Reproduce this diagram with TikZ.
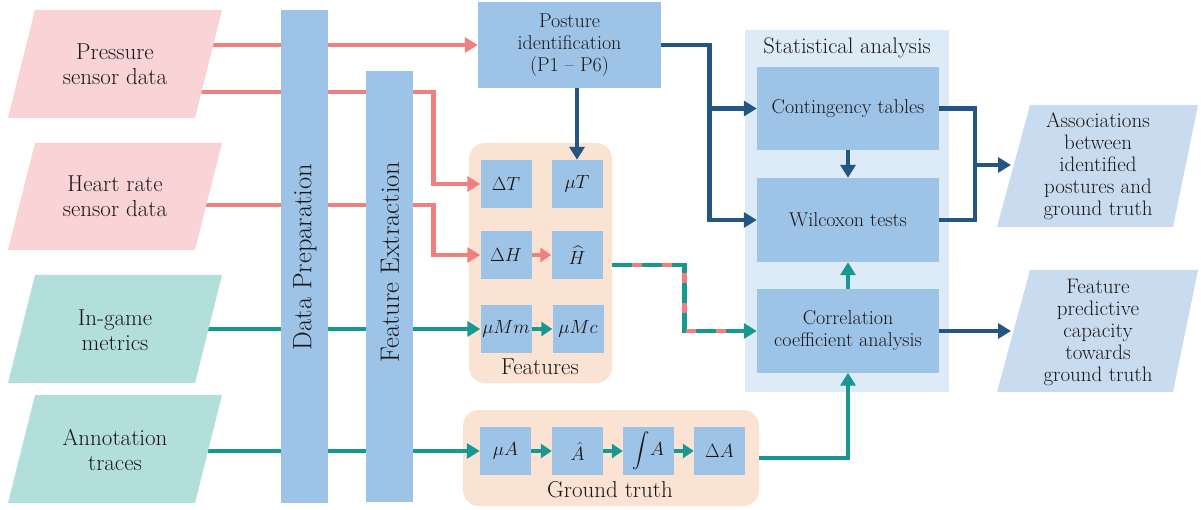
\RequirePackage{fix-cm}
\documentclass[tikz,border=0pt]{standalone}
\usepackage{exscale}
\usetikzlibrary{arrows.meta,calc}
\definecolor{ink}{HTML}{1A1718}
\definecolor{pinkfill}{HTML}{F9D3D5}
\definecolor{redline}{HTML}{F08080}
\definecolor{tealfill}{HTML}{B2DFDC}
\definecolor{tealline}{HTML}{179992}
\definecolor{boxblue}{HTML}{9DC3E6}
\definecolor{navy}{HTML}{245683}
\definecolor{statsbg}{HTML}{DDEBF7}
\definecolor{outfill}{HTML}{C9DCEF}
\definecolor{peach}{HTML}{FBE3D3}
\pgfdeclarelayer{back}
\pgfdeclarelayer{wires}
\pgfsetlayers{back,wires,main}
\begin{document}
\begin{tikzpicture}[x=1pt,y=-1pt,
  every node/.style={text=ink, inner sep=0pt, align=center},
  intext/.style={font=\fontsize{23}{25}\selectfont},
  outtext/.style={font=\fontsize{21}{22}\selectfont},
  box/.style={fill=boxblue, font=\fontsize{20}{22}\selectfont},
  cell/.style={fill=boxblue, minimum width=51pt, minimum height=48pt, font=\fontsize{19}{22}\selectfont},
  group/.style={fill=peach, rounded corners=16pt},
  grouplabel/.style={font=\fontsize{23}{25}\selectfont},
  bar/.style={fill=boxblue},
  barlabel/.style={rotate=90, font=\fontsize{26.5}{30}\selectfont},
  wire/.style={line width=4.5pt},
  redw/.style={wire, draw=redline},
  tealw/.style={wire, draw=tealline},
  navyw/.style={wire, draw=navy},
  tip/.style={-{Triangle[length=13pt,width=15pt]}},
  smalltip/.style={-{Triangle[length=11pt,width=14pt]}}
]
\useasboundingbox (0,0) rectangle (1201,510);

% ---- input data (parallelograms) ----
\fill[pinkfill] (35,10) -- (222,10) -- (195,118) -- (8,118) -- cycle;
\node[intext] (pres) at (115,64) {Pressure\\sensor data};
\fill[pinkfill] (35,143) -- (222,143) -- (195,250) -- (8,250) -- cycle;
\node[intext] (heart) at (115,196) {Heart rate\\sensor data};
\fill[tealfill] (35,275) -- (222,275) -- (195,383) -- (8,383) -- cycle;
\node[intext] (game) at (115,330) {In-game\\metrics};
\fill[tealfill] (35,395) -- (222,395) -- (195,503) -- (8,503) -- cycle;
\node[intext] (annot) at (115,450) {Annotation\\traces};

\coordinate (pres-a) at (213,45);
\coordinate (pres-b) at (201,92);
\coordinate (heart-a) at (206,205);
\coordinate (game-a) at (208,329);
\coordinate (annot-a) at (208,451);

% ---- processing bars ----
\node[bar, minimum width=47pt, minimum height=493pt] (prep) at (304.5,256.5) {};
\node[barlabel] (preplabel) at (305,257) {Data Preparation};
\node[bar, minimum width=47pt, minimum height=431pt] (fext) at (389.5,286.5) {};
\node[barlabel] (fextlabel) at (390,262) {Feature Extraction};

% ---- posture identification ----
\node[box, minimum width=183pt, minimum height=86pt] (posture) at (569.5,45)
  {Posture\\identification\\(P1 -- P6)};

% ---- group backgrounds ----
\begin{pgfonlayer}{back}
\node[group, minimum width=143pt, minimum height=240pt] (feat) at (540.5,263) {};
\node[group, minimum width=296pt, minimum height=96pt] (gt) at (611,458) {};
\node[fill=statsbg, minimum width=204pt, minimum height=362pt] (stats) at (847,211) {};
\end{pgfonlayer}

% ---- features ----
\node[cell] (dT) at (506,184) {$\Delta T$};
\node[cell] (muT) at (577,184) {$\mu T$};
\node[cell] (dH) at (506,255) {$\Delta H$};
\node[cell] (Hhat) at (577,255) {$\widehat{H}$};
\node[cell] (muMm) at (506,329) {$\mu Mm$};
\node[cell] (muMc) at (578,329) {$\mu Mc$};
\node[grouplabel] (featlabel) at (540,367) {Features};

% ---- ground truth ----
\node[cell] (muA) at (505.5,451) {$\mu A$};
\node[cell] (Ahat) at (577.5,451) {$\hat{A}$};
\node[cell] (intA) at (648.5,451) {$\displaystyle\int\! A$};
\node[cell] (dA) at (719.5,451) {$\Delta A$};
\node[grouplabel] (gtlabel) at (610,490) {Ground truth};

% ---- statistical analysis ----
\node[font=\fontsize{22.5}{24}\selectfont] (statslabel) at (847,48) {Statistical analysis};
\node[box, minimum width=182pt, minimum height=83pt] (cont) at (848,108.5) {Contingency tables};
\node[box, minimum width=182pt, minimum height=84pt] (wil) at (848,220) {Wilcoxon tests};
\node[box, minimum width=182pt, minimum height=83pt] (corr) at (848,331) {Correlation\\coefficient analysis};

% ---- outputs ----
\fill[outfill] (1030,105) -- (1198,105) -- (1173,227) -- (997,227) -- cycle;
\node[outtext] (assoc) at (1098,166) {Associations\\between\\identified\\postures and\\ground truth};
\fill[outfill] (1030,270) -- (1198,270) -- (1173,392) -- (997,392) -- cycle;
\node[outtext] (predcap) at (1098,332) {Feature\\predictive\\capacity\\towards\\ground truth};
\coordinate (assoc-in) at (1011,165);
\coordinate (predcap-in) at (1011,331);

% ---- connectors ----
\begin{pgfonlayer}{wires}
\draw[redw, tip] (pres-a) -- (posture.west);
\draw[redw, tip] (pres-b) -| ([xshift=-47pt]dT.west) -- (dT.west);
\draw[redw, tip] (heart-a) -| ([xshift=-47pt]dH.west) -- (dH.west);
\draw[tealw, tip] (game-a) -- (muMm.west);
\draw[tealw, tip] (annot-a) -- (muA.west);
\end{pgfonlayer}

\draw[redw, smalltip] (dH.east) -- (Hhat.west);
\draw[tealw, smalltip] (muMm.east) -- (muMc.west);
\draw[tealw, smalltip] (muA.east) -- (Ahat.west);
\draw[tealw, smalltip] (Ahat.east) -- (intA.west);
\draw[tealw, smalltip] (intA.east) -- (dA.west);

\draw[navyw, tip] (muT.north |- posture.south) -- (muT.north);

% posture to the statistical tests
\draw[navyw, tip] (posture.east) -- ++(48.5,0) coordinate (pj) |- (wil.west);
\draw[navyw, tip] (pj |- cont.west) -- (cont.west);
\draw[navyw, tip] (cont.south) -- (wil.north);

% statistical tests to the associations
\draw[navyw] (cont.east) -- ++(36,0) coordinate (aj) |- (wil.east);
\draw[navyw, tip] (aj |- assoc-in) -- (assoc-in);

% heart-rate feature into correlation analysis (two-colour line)
\coordinate (hout) at ($(feat.east |- Hhat.east)+(0,10)$);
\draw[tealw, tip] (hout) -| ($(hout)!.5!(corr.west)$) |- (corr.west);
\draw[redw, dash pattern=on 10pt off 20pt, dash phase=10pt, shorten >=14pt]
  (hout) -| ($(hout)!.5!(corr.west)$) |- (corr.west);

% ground truth into correlation analysis
\begin{pgfonlayer}{wires}
\draw[tealw, tip] (gt.east) -| (corr.south);
\end{pgfonlayer}
\draw[tealw, tip] (corr.north) -- (wil.south);
\draw[navyw, tip] (corr.east) -- (predcap-in);
\end{tikzpicture}
\end{document}
